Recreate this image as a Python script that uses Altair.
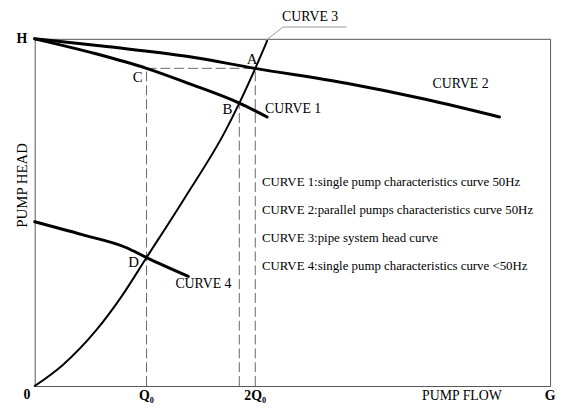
import altair as alt
import pandas as pd

# Curve data (flow %, head %)
c1_x = [0, 11.9, 21.7, 29.8, 39.7, 45.1]
c1_y = [100, 95.7, 91.5, 87.2, 81.5, 77.5]

c2_x = [0, 14.4, 29.8, 42.8, 60.5, 75.8, 90.2]
c2_y = [100, 97.7, 94.9, 91.5, 87.2, 82.6, 77.5]

c3_x = [0, 5.4, 11.9, 16.9, 21.7, 29.2, 37.0, 39.7, 42.8, 45.1]
c3_y = [0, 6.0, 16.0, 25.9, 37.0, 54.4, 73.5, 81.5, 91.5, 99.4]

c4_x = [0, 9.2, 17.7, 21.7, 29.8]
c4_y = [47.3, 43.6, 39.9, 37.0, 31.6]

# Guide (dashed) lines
dash_x = [21.7, 21.7, 39.7, 42.8]
dash_y = [91.5, 0, 0, 0]
dash_x2 = [42.8, 21.7, 39.7, 42.8]
dash_y2 = [91.5, 91.5, 81.5, 91.5]

# Leader line for CURVE 3
lead_x = [44.7, 48.2, 60.5]
lead_y = [99.4, 103.4, 103.4]

# Point labels
pt_text = ["A", "B", "C", "D"]
pt_x = [42.2, 37.4, 20.0, 19.2]
pt_y = [94.3, 79.8, 88.9, 35.6]

# Curve labels
cl_text = ["CURVE 1", "CURVE 2", "CURVE 3", "CURVE 4"]
cl_x = [44.7, 77.2, 48.0, 27.3]
cl_y = [79.8, 86.9, 106.3, 29.3]

# Legend lines
lg_text = [
    "CURVE 1:single pump characteristics curve 50Hz",
    "CURVE 2:parallel pumps characteristics curve 50Hz",
    "CURVE 3:pipe system head curve",
    "CURVE 4:single pump characteristics curve <50Hz",
]
lg_x = [44.1, 44.1, 44.1, 44.1]
lg_y = [58.7, 50.7, 42.7, 34.5]

# Axis labels
ax_text = ["H", "0", "Q\u2080", "2Q\u2080", "G"]
ax_x = [-2.5, -1.5, 21.7, 42.8, 100]
ax_y = [100, -2.6, -2.8, -2.8, -2.8]

flow_text = ["PUMP FLOW"]
flow_x = [82.9]
flow_y = [-2.8]

FONT = "Liberation Serif"
xs = alt.Scale(domain=[0, 100], nice=False, zero=False)
ys = alt.Scale(domain=[0, 100], nice=False, zero=False)


def curve(xv, yv, width):
    df = pd.DataFrame({"x": xv, "y": yv, "o": list(range(len(xv)))})
    return alt.Chart(df).mark_line(
        color="black", strokeWidth=width, interpolate="monotone", strokeCap="round"
    ).encode(
        x=alt.X("x:Q", scale=xs, axis=None),
        y=alt.Y("y:Q", scale=ys, axis=None),
        order="o:O",
    )


dash_df = pd.DataFrame({"x": dash_x, "y": dash_y, "x2": dash_x2, "y2": dash_y2})
dashes = alt.Chart(dash_df).mark_rule(
    color="#666", strokeWidth=1, strokeDash=[10, 4]
).encode(
    x=alt.X("x:Q", scale=xs, axis=None),
    y=alt.Y("y:Q", scale=ys, axis=None),
    x2="x2:Q",
    y2="y2:Q",
)

lead_df = pd.DataFrame({"x": lead_x, "y": lead_y, "o": [0, 1, 2]})
lead = alt.Chart(lead_df).mark_line(color="#999", strokeWidth=1).encode(
    x=alt.X("x:Q", scale=xs, axis=None),
    y=alt.Y("y:Q", scale=ys, axis=None),
    order="o:O",
)


def texts(tv, xv, yv, size, align="center", weight="normal"):
    df = pd.DataFrame({"t": tv, "x": xv, "y": yv})
    return alt.Chart(df).mark_text(
        font=FONT, fontSize=size, align=align, baseline="middle",
        color="black", fontWeight=weight,
    ).encode(
        x=alt.X("x:Q", scale=xs, axis=None),
        y=alt.Y("y:Q", scale=ys, axis=None),
        text="t:N",
    )


head_df = pd.DataFrame({"t": ["PUMP HEAD"], "x": [-2.5], "y": [57.8]})
head = alt.Chart(head_df).mark_text(
    font=FONT, fontSize=15, angle=270, align="center", baseline="middle", color="black"
).encode(
    x=alt.X("x:Q", scale=xs, axis=None),
    y=alt.Y("y:Q", scale=ys, axis=None),
    text="t:N",
)

chart = alt.layer(
    dashes,
    lead,
    curve(c3_x, c3_y, 2),
    curve(c1_x, c1_y, 3),
    curve(c2_x, c2_y, 3),
    curve(c4_x, c4_y, 3),
    texts(pt_text, pt_x, pt_y, 15),
    texts(cl_text, cl_x, cl_y, 14, align="left"),
    texts(lg_text, lg_x, lg_y, 13, align="left"),
    texts(ax_text, ax_x, ax_y, 14, weight="bold"),
    texts(flow_text, flow_x, flow_y, 14),
    head,
).properties(
    width=521,
    height=351,
    padding={"left": 27, "top": 29, "right": 6, "bottom": 16},
    autosize=alt.AutoSizeParams(type="none"),
    background="white",
).configure_view(stroke="#555", strokeWidth=1)

chart.save("out.html", embed_options={"renderer": "svg", "actions": False})
